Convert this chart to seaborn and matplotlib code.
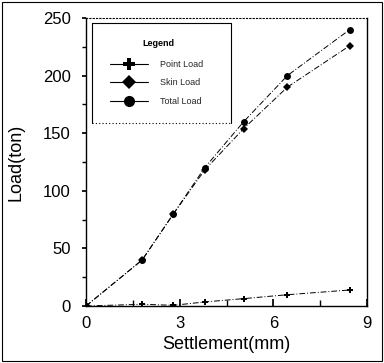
import matplotlib
matplotlib.use("Agg")
import matplotlib.pyplot as plt
import seaborn as sns
import pandas as pd
from matplotlib.ticker import MultipleLocator
from matplotlib.lines import Line2D

sns.set_theme(style="white")
plt.rcParams['font.family'] = ['Liberation Sans', 'DejaVu Sans']

settlement = [0, 1.8, 2.8, 3.8, 5.05, 6.45, 8.45]
point_load = [0, 1.5, 0.6, 3.5, 6.4, 9.8, 13.9]
skin_load = [0, 40, 80, 118, 154, 190, 226]
total_load = [0, 40, 80, 120, 160, 200, 240]
series_names = ["Point Load", "Skin Load", "Total Load"]

df = pd.DataFrame({
    "Settlement": settlement * 3,
    "Load": point_load + skin_load + total_load,
    "Series": sum([[n] * len(settlement) for n in series_names], []),
})

fig = plt.figure(figsize=(3.84, 3.63), dpi=100)
ax = fig.add_axes([86/384, 1-306/363, (367-86)/384, (306-18)/363])

markers = {"Point Load": "P", "Skin Load": "D", "Total Load": "o"}
sizes = {"Point Load": 5, "Skin Load": 4, "Total Load": 5}
for name in series_names:
    sub = df[df.Series == name]
    sns.lineplot(data=sub, x="Settlement", y="Load", ax=ax, color="black",
                 lw=0.7, linestyle=(0, (6, 2, 1, 2)), marker=markers[name],
                 markersize=sizes[name], markeredgewidth=0, legend=False)

ax.set_xlim(0, 9)
ax.set_ylim(0, 250)
ax.xaxis.set_major_locator(MultipleLocator(3))
ax.xaxis.set_minor_locator(MultipleLocator(1.5))
ax.yaxis.set_major_locator(MultipleLocator(50))
ax.yaxis.set_minor_locator(MultipleLocator(25))
ax.tick_params(axis="x", which="major", direction="in", bottom=True, length=5,
               labelsize=12, pad=7, color="black", labelcolor="black")
ax.tick_params(axis="x", which="minor", direction="in", bottom=True, length=4,
               color="black")
ax.tick_params(axis="y", which="both", direction="out", left=True, length=3,
               labelsize=12, pad=8, color="black", labelcolor="black")
ax.set_xlabel("Settlement(mm)", fontsize=13, labelpad=4, color="black")
ax.set_ylabel("Load(ton)", fontsize=13, labelpad=13, color="black")
for s in ["left", "bottom", "right"]:
    ax.spines[s].set_color("black")
    ax.spines[s].set_linewidth(1.0)
ax.spines["top"].set_color("black")
ax.spines["top"].set_linewidth(0.8)
ax.spines["top"].set_linestyle((0, (1, 2)))

# legend box (solid top/left/right, dotted bottom)
x0, x1 = (92-86)/281, (231-86)/281
y0, y1 = (306-123)/288, (306-23)/288
ax.add_patch(plt.Rectangle((x0, y0), x1-x0, y1-y0, transform=ax.transAxes,
                           facecolor="white", edgecolor="none", zorder=4))
for xs, ys, ls in [([x0, x1], [y1, y1], "-"), ([x0, x0], [y0, y1], "-"),
                   ([x1, x1], [y0, y1], "-"), ([x0, x1], [y0, y0], (0, (1, 2)))]:
    ax.add_line(Line2D(xs, ys, transform=ax.transAxes, color="black", lw=0.8,
                       linestyle=ls, zorder=5))
ax.text((158-86)/281, (306-44)/288, "Legend", transform=ax.transAxes,
        ha="center", va="center", fontsize=6.5, fontweight="bold",
        color="black", zorder=6)

handles = [Line2D([], [], color="black", lw=0.8, marker=markers[n],
                  markersize=sizes[n] + 3, markeredgewidth=0) for n in series_names]
leg = ax.legend(handles, series_names, loc="upper left",
                bbox_to_anchor=((110-86)/281, (306-60)/288), fontsize=6.5,
                frameon=False, handlelength=4.2, labelspacing=1.05,
                borderpad=0, borderaxespad=0, handletextpad=1.3)
leg.set_zorder(6)

fig.patches.append(plt.Rectangle((0.005, 0.005), 0.99, 0.99, transform=fig.transFigure,
                                 fill=False, edgecolor="black", lw=0.8))
fig.savefig("out.png", dpi=100)
